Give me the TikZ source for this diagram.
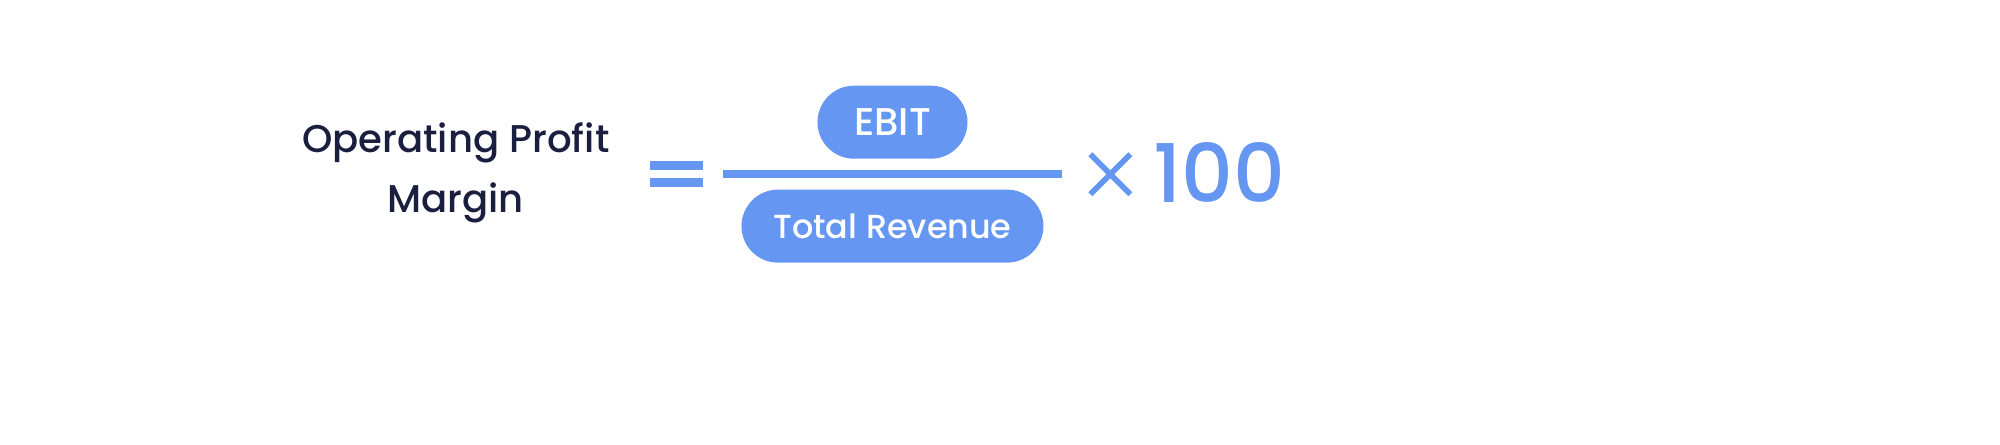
\documentclass[tikz,border=0pt]{standalone}
\usepackage{fontspec}
\setmainfont{Poppins Medium}
\usetikzlibrary{positioning}
\definecolor{pillblue}{HTML}{6496F2}
\definecolor{inkdark}{HTML}{1B1F3F}

\begin{document}
\begin{tikzpicture}[x=0.01cm, y=0.01cm,
  pill/.style={fill=pillblue, rounded corners=0.365cm, text=white, inner sep=0pt, minimum height=0.73cm},
  rule/.style={draw=pillblue, line width=2.6pt}]
            \path[use as bounding box] (0cm,0cm) rectangle (20cm,4.44cm);
            % Nodos
            \node[text=inkdark, align=center, font=\fontsize{11}{17}\selectfont] (name) at (456,271) {Operating Profit\\Margin};
            \node[pill, minimum width=1.50cm, font=\fontsize{11}{13}\selectfont] (ebit) at (893,322) {EBIT};
            \node[pill, minimum width=3.02cm, font=\fontsize{9.5}{11}\selectfont] (rev) at (893,218) {Total Revenue};
            \node[text=pillblue, font=\fontsize{23}{26}\selectfont] (hundred) at (1220,272) {100};
            \coordinate (eqa) at (650,279);
            \coordinate (eqb) at (703,279);
            \coordinate (eqc) at (650,262);
            \coordinate (eqd) at (703,262);
            \coordinate (fl) at (723,270);
            \coordinate (fr) at (1063,270);
            \coordinate (xa) at (1091,290);
            \coordinate (xb) at (1131,250);
            \coordinate (xc) at (1091,250);
            \coordinate (xd) at (1131,290);

            % Lineas
            \draw[rule] (eqa) -- (eqb);
            \draw[rule] (eqc) -- (eqd);
            \draw[draw=pillblue, line width=2.2pt] (fl) -- (fr);
            \draw[draw=pillblue, line width=1.6pt] (xa) -- (xb);
            \draw[draw=pillblue, line width=1.6pt] (xc) -- (xd);
          \end{tikzpicture}
\end{document}
